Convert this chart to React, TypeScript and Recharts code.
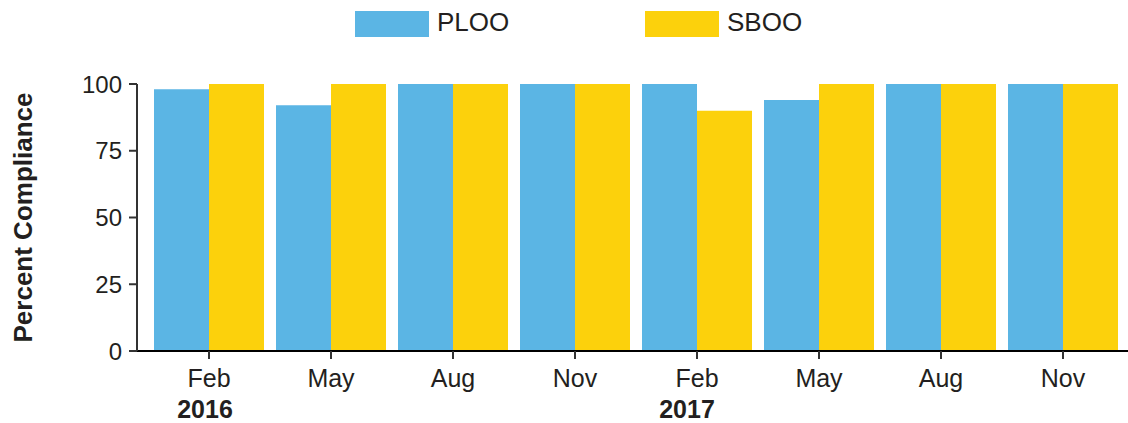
import React from 'react';
import { BarChart, Bar, XAxis, YAxis, Legend, Label } from 'recharts';

const months = ['Feb', 'May', 'Aug', 'Nov', 'Feb', 'May', 'Aug', 'Nov'];
const years = ['2016', '', '', '', '2017', '', '', ''];
const plooValues = [98, 92, 100, 100, 100, 94, 100, 100];
const sbooValues = [100, 100, 100, 100, 90, 100, 100, 100];
const yTicks = [0, 25, 50, 75, 100];

const BLUE = '#5BB5E4';
const YELLOW = '#FCD10C';
const TEXT = '#231F20';
const FONT = '"Liberation Sans", Arial, sans-serif';

const data = months.map((m, i) => ({
  key: `${m} ${i}`,
  PLOO: plooValues[i],
  SBOO: sbooValues[i],
}));

const XTick = (props: any) => {
  const { x, y, index } = props;
  const yearShift = index === 0 ? -4 : -10;
  return (
    <g>
      <text x={x} y={y + 25.5} textAnchor="middle" fontSize={25} fill={TEXT} fontFamily={FONT}>
        {months[index]}
      </text>
      {years[index] ? (
        <text x={x + yearShift} y={y + 57} textAnchor="middle" fontSize={25} fontWeight="bold" fill={TEXT} fontFamily={FONT}>
          {years[index]}
        </text>
      ) : null}
    </g>
  );
};

const LegendContent = (props: any) => {
  const payload = props.payload || [];
  return (
    <svg width={1128} height={50} style={{ display: 'block' }}>
      {payload.map((p: any, i: number) => (
        <g key={p.value} transform={`translate(${355 + i * 290}, 0)`}>
          <rect x={0} y={11} width={74} height={26} fill={p.color} />
          <text x={82} y={31} fontSize={26} fill={TEXT} fontFamily={FONT}>
            {p.value}
          </text>
        </g>
      ))}
    </svg>
  );
};

const YLabel = (props: any) => {
  const vb = props.viewBox || {};
  const cy = (vb.y || 0) + (vb.height || 0) / 2;
  return (
    <text
      transform={`translate(32, ${cy}) rotate(-90)`}
      textAnchor="middle"
      fontSize={26}
      fontWeight="bold"
      fill={TEXT}
      fontFamily={FONT}
    >
      Percent Compliance
    </text>
  );
};

export default function App() {
  return (
    <div style={{ position: 'absolute', left: 0, top: 0, width: 1128, height: 423, background: '#fff' }}>
      <BarChart
        width={1128}
        height={423}
        data={data}
        margin={{ top: 84, right: 0, bottom: 12, left: 0 }}
        barCategoryGap={6}
        barGap={0}
      >
        <XAxis
          dataKey="key"
          padding={{ left: 11, right: 4 }}
          height={60}
          tickSize={8}
          tickMargin={2}
          interval={0}
          axisLine={{ stroke: '#000', strokeWidth: 2 }}
          tickLine={{ stroke: '#333', strokeWidth: 2 }}
          tick={<XTick />}
        />
        <YAxis
          domain={[0, 100]}
          ticks={yTicks}
          width={137}
          tickSize={8}
          tickMargin={7}
          axisLine={{ stroke: '#333', strokeWidth: 2 }}
          tickLine={{ stroke: '#333', strokeWidth: 2 }}
          tick={{ fontSize: 24, fill: TEXT, fontFamily: FONT }}
        >
          <Label content={<YLabel />} />
        </YAxis>
        <Legend
          layout="horizontal"
          verticalAlign="middle"
          align="center"
          content={<LegendContent />}
          wrapperStyle={{ top: 0, left: 0, width: 1128, height: 50 }}
        />
        <Bar dataKey="PLOO" fill={BLUE} isAnimationActive={false} />
        <Bar dataKey="SBOO" fill={YELLOW} isAnimationActive={false} />
      </BarChart>
    </div>
  );
}
